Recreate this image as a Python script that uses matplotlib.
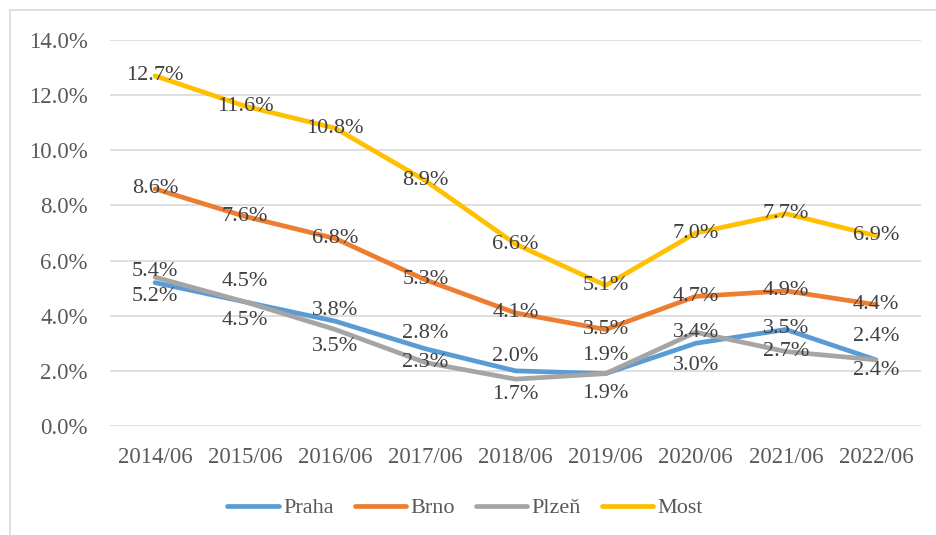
import matplotlib.pyplot as plt
from matplotlib.patches import Rectangle
from matplotlib.ticker import FuncFormatter

plt.rcParams['font.family'] = ['Liberation Serif', 'DejaVu Serif']

roky = ['2014/06', '2015/06', '2016/06', '2017/06', '2018/06',
        '2019/06', '2020/06', '2021/06', '2022/06']
praha = [5.2, 4.5, 3.8, 2.8, 2.0, 1.9, 3.0, 3.5, 2.4]
brno = [8.6, 7.6, 6.8, 5.3, 4.1, 3.5, 4.7, 4.9, 4.4]
plzen = [5.4, 4.5, 3.5, 2.3, 1.7, 1.9, 3.4, 2.7, 2.4]
most = [12.7, 11.6, 10.8, 8.9, 6.6, 5.1, 7.0, 7.7, 6.9]

# posun popisku ve svislem smeru (pixely, + nahoru)
posun_praha = [-14, -19, 11, 15, 14, 18, -22, 1, 23]
posun_plzen = [6, 20, -17, 0, -15, -20, 0, 0, -11]
posun_nula = [0] * 9

serie = [
    ('Praha', praha, '#5B9BD5', posun_praha),
    ('Brno', brno, '#ED7D31', posun_nula),
    ('Plzeň', plzen, '#A5A5A5', posun_plzen),
    ('Most', most, '#FFC000', posun_nula),
]

fig = plt.figure(figsize=(9.37, 5.35), dpi=100)
ax = fig.add_axes([110 / 937, 1 - 426 / 535, 811 / 937, 386 / 535])

x = list(range(len(roky)))
for nazev, hodnoty, barva, _ in serie:
    ax.plot(x, hodnoty, color=barva, lw=3.4, label=nazev,
            solid_capstyle='round', zorder=3)

for nazev, hodnoty, barva, posun in serie:
    for xi, v, p in zip(x, hodnoty, posun):
        ax.annotate(f'{v:.1f}%', (xi, v), xytext=(0, p * 0.72),
                    textcoords='offset points', ha='center', va='center',
                    fontsize=16, color='#404040', zorder=5)

ax.set_xlim(-0.5, len(roky) - 0.5)
ax.set_ylim(0, 14)
ax.set_yticks(range(0, 15, 2))
ax.yaxis.set_major_formatter(FuncFormatter(lambda v, _: f'{v:.1f}%'))
ax.set_xticks(x)
ax.set_xticklabels(roky)
ax.grid(axis='y', color='#D9D9D9', lw=1.2)
ax.set_axisbelow(True)
for s in ax.spines.values():
    s.set_visible(False)
ax.tick_params(length=0, labelsize=16.5, colors='#595959', pad=15)
ax.tick_params(axis='y', pad=16)

ax.legend(loc='center', bbox_to_anchor=(0.438, -0.213), ncol=4,
          frameon=False, fontsize=16, labelcolor='#595959',
          handlelength=2.3, handletextpad=0.2, columnspacing=0.95)

fig.patches.append(Rectangle((10 / 937, -0.1), 1.1, 1 - 10 / 535 + 0.1,
                             transform=fig.transFigure, fill=False,
                             edgecolor='#D9D9D9', lw=1.2))

fig.savefig('out.png', dpi=100)
